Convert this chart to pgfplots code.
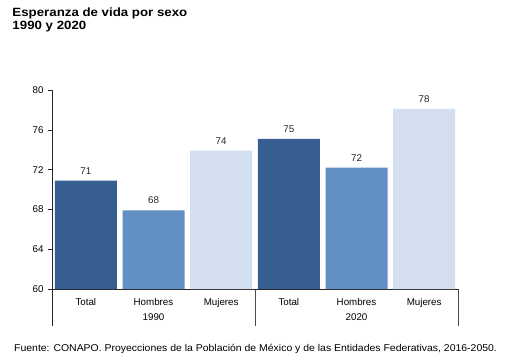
\documentclass[border=0pt]{standalone}
\usepackage{pgfplots}
\pgfplotsset{compat=1.18}
\usepackage{fontspec}
\setmainfont{Liberation Sans}
\newfontfamily\titlefont[FakeStretch=1.11]{Liberation Sans}
\newfontfamily\footfont[FakeStretch=1.06]{Liberation Sans}
\definecolor{cdark}{HTML}{365E91}
\definecolor{cmed}{HTML}{628FC4}
\definecolor{clight}{HTML}{D3DFEE}
\begin{document}
\begin{tikzpicture}[x=1bp,y=1bp]
\useasboundingbox (0,0) rectangle (512,361);
\node[anchor=base west, font=\titlefont\fontsize{12}{13}\selectfont\bfseries, inner sep=0pt] at (12.3,344.3) {Esperanza de vida por sexo};
\node[anchor=base west, font=\titlefont\fontsize{12}{13}\selectfont\bfseries, inner sep=0pt] at (12.3,332) {1990 y 2020};
\begin{axis}[
  at={(52bp,72bp)}, anchor=south west,
  scale only axis, width=406bp, height=199bp,
  xmin=-0.5, xmax=5.5, ymin=60, ymax=80,
  axis x line=bottom, axis y line=left,
  axis line style={-, black!85, line width=0.6pt},
  ytick={60,64,...,80},
  xtick={0,...,5},
  xticklabels={Total,Hombres,Mujeres,Total,Hombres,Mujeres},
  x tick style={draw=none},
  y tick style={black!85, line width=0.6pt},
  tick align=outside, major tick length=4bp,
  ticklabel style={font=\fontsize{9.8}{10}\selectfont},
  /pgf/number format/assume math mode=true,
  xticklabel style={yshift=-2bp},
  yticklabel style={xshift=-1bp},
  ybar, bar width=62bp, bar shift=0pt,
  nodes near coords,
  nodes near coords style={font=\fontsize{9.8}{10}\selectfont, black!85, yshift=3bp},
  point meta=explicit symbolic,
  clip=false,
]
\addplot[fill=cdark, draw=none] coordinates {(0,70.9)[71] (3,75.1)[75]};
\addplot[fill=cmed, draw=none] coordinates {(1,67.9)[68] (4,72.2)[72]};
\addplot[fill=clight, draw=none] coordinates {(2,73.9)[74] (5,78.1)[78]};
\draw[black!85, line width=0.6pt] (axis cs:-0.5,60) -- ([yshift=-37bp]axis cs:-0.5,60);
\draw[black!70, line width=0.6pt] (axis cs:2.5,60) -- ([yshift=-37bp]axis cs:2.5,60);
\draw[black!70, line width=0.6pt] (axis cs:5.5,60) -- ([yshift=-37bp]axis cs:5.5,60);
\node[font=\fontsize{9.8}{10}\selectfont] at ([yshift=-28bp]axis cs:1,60) {1990};
\node[font=\fontsize{9.8}{10}\selectfont] at ([yshift=-28bp]axis cs:4,60) {2020};
\end{axis}
\node[anchor=base west, font=\footfont\fontsize{9.9}{11}\selectfont, inner sep=0pt] at (14,9.5) {Fuente: CONAPO. Proyecciones de la Población de México y de las Entidades Federativas, 2016-2050.};
\end{tikzpicture}
\end{document}
